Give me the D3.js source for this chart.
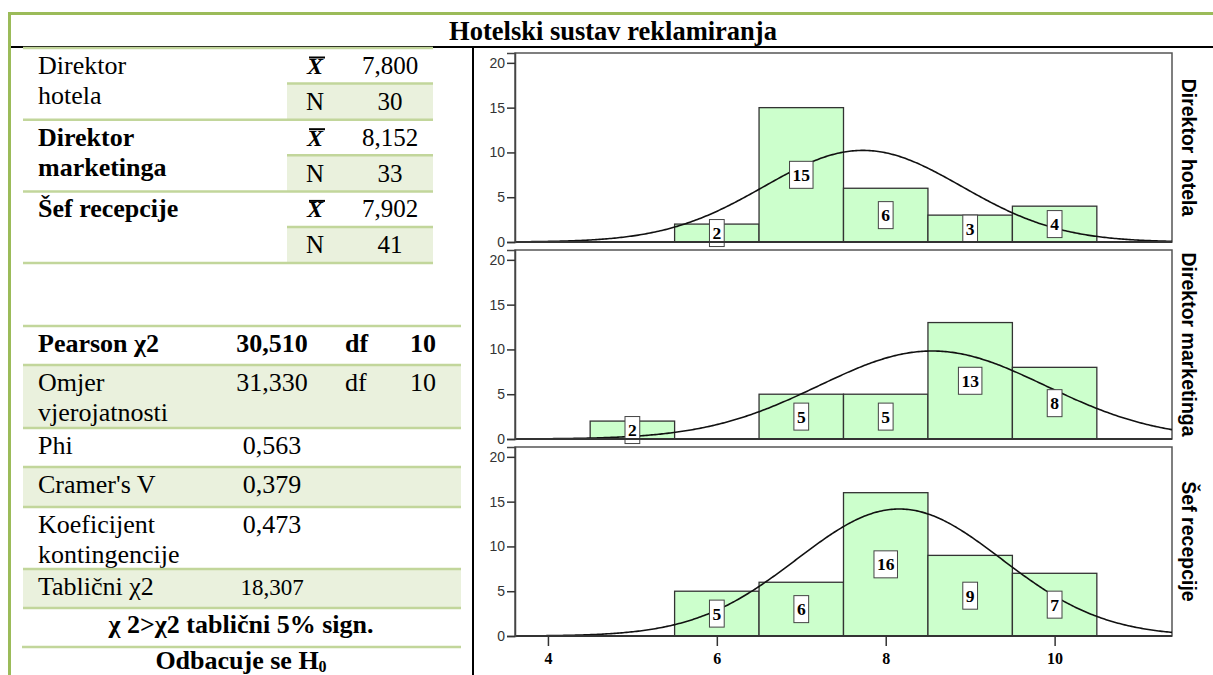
<!DOCTYPE html>
<html>
<head>
<meta charset="utf-8">
<script src="https://cdn.jsdelivr.net/npm/d3@7"></script>
<style>
  body { margin: 0; background: #fff; }
  svg { display: block; }
</style>
</head>
<body>
<div id="chart"></div>
<script>
// ---- data ----
const title = "Hotelski sustav reklamiranja";

const groupLines = [["Direktor", "hotela"], ["Direktor", "marketinga"], ["Šef recepcije"]];
const groupBold = [false, true, true];
const groupMeans = ["7,800", "8,152", "7,902"];
const groupN = ["30", "33", "41"];

const statLabels = [["Pearson χ2"], ["Omjer", "vjerojatnosti"], ["Phi"], ["Cramer's V"], ["Koeficijent", "kontingencije"], ["Tablični χ2"]];
const statValues = ["30,510", "31,330", "0,563", "0,379", "0,473", "18,307"];
const statDf = ["10", "10", "", "", "", ""];
const conclusionLine = "χ 2>χ2 tablični 5% sign.";
const decisionLine = "Odbacuje se H";

const panelNames = ["Direktor hotela", "Direktor marketinga", "Šef recepcije"];
const grades = [5, 6, 7, 8, 9, 10];
const countsHotela = [0, 2, 15, 6, 3, 4];
const countsMarketing = [2, 0, 5, 5, 13, 8];
const countsRecepcija = [0, 5, 6, 16, 9, 7];
const curveMeans = [7.73, 8.55, 8.16];
const curveSds = [1.17, 1.34, 1.21];
const yTicks = [0, 5, 10, 15, 20];
const xTicks = [4, 6, 8, 10];

const panelCounts = [countsHotela, countsMarketing, countsRecepcija];

// ---- styles ----
const serif = '"Liberation Serif","Times New Roman",serif';
const sans = '"Liberation Sans",Arial,sans-serif';
const lineGreen = "#c2d69b";
const fillGreen = "#eaf1dd";
const barFill = "#ccffcc";

const svg = d3.select("#chart").append("svg")
    .attr("width", 1213)
    .attr("height", 675);

// outer frame
svg.append("path")
    .attr("d", "M9.5,675V13.5H1213")
    .attr("fill", "none")
    .attr("stroke", "#9bbb59")
    .attr("stroke-width", 3);

svg.append("text")
    .attr("x", 613).attr("y", 40)
    .attr("text-anchor", "middle")
    .style("font-family", serif).style("font-size", "26.5px").style("font-weight", "bold")
    .text(title);

svg.append("line").attr("x1", 11).attr("x2", 1213).attr("y1", 47).attr("y2", 47)
    .attr("stroke", "#000").attr("stroke-width", 2);
svg.append("line").attr("x1", 473).attr("x2", 473).attr("y1", 47).attr("y2", 675)
    .attr("stroke", "#000").attr("stroke-width", 2);

function txt(x, y, s, opts = {}) {
    return svg.append("text")
        .attr("x", x).attr("y", y)
        .attr("text-anchor", opts.anchor || "start")
        .style("font-family", serif)
        .style("font-size", (opts.size || 26) + "px")
        .style("font-weight", opts.bold ? "bold" : "normal")
        .style("font-style", opts.italic ? "italic" : "normal")
        .attr("fill", "#000")
        .text(s);
}
function hline(x1, x2, y) {
    svg.append("line").attr("x1", x1).attr("x2", x2).attr("y1", y).attr("y2", y)
        .attr("stroke", lineGreen).attr("stroke-width", 2.5);
}

// ---- top table ----
const topY0 = 48, groupH = 71.7;
groupLines.forEach((lines, i) => {
    const t = topY0 + i * groupH;
    svg.append("rect").attr("x", 287).attr("y", t + 35.5).attr("width", 146).attr("height", 36)
        .attr("fill", fillGreen);
});
groupLines.forEach((lines, i) => {
    const t = topY0 + i * groupH;
    hline(23, 433, t);
    hline(287, 433, t + 35.5);
    lines.forEach((l, k) => txt(38, t + 26 + k * 30, l, { bold: groupBold[i] }));
    txt(315, t + 26, "X", { anchor: "middle", bold: true, italic: true, size: 24 });
    svg.append("line").attr("x1", 309).attr("x2", 325).attr("y1", t + 9.5).attr("y2", t + 9.5)
        .attr("stroke", "#000").attr("stroke-width", 2);
    txt(390, t + 26, groupMeans[i], { anchor: "middle", size: 25 });
    txt(315, t + 62, "N", { anchor: "middle", size: 25 });
    txt(390, t + 62, groupN[i], { anchor: "middle", size: 25 });
});
hline(23, 433, topY0 + 3 * groupH);

// ---- bottom table ----
const statTops = [326, 365, 428, 467, 507, 569, 608];
statLabels.forEach((lines, i) => {
    if (i % 2 === 1) {
        svg.append("rect").attr("x", 23).attr("y", statTops[i]).attr("width", 438)
            .attr("height", statTops[i + 1] - statTops[i]).attr("fill", fillGreen);
    }
});
statLabels.forEach((lines, i) => {
    const t = statTops[i];
    const bold = i === 0;
    lines.forEach((l, k) => txt(38, t + 26 + k * 30, l, { bold }));
    txt(272, t + 26, statValues[i], { anchor: "middle", bold, size: i === 5 ? 23 : 26 });
    if (statDf[i]) {
        txt(345, t + 26, "df", { bold });
        txt(423, t + 26, statDf[i], { anchor: "middle", bold });
    }
});
statTops.forEach(t => hline(23, 461, t));
hline(22, 461, 647);
txt(241, 633, conclusionLine, { anchor: "middle", bold: true });
const dec = txt(241, 669, decisionLine, { anchor: "middle", bold: true });
dec.append("tspan").attr("dy", 3).style("font-size", "16px").text("0");

// ---- histograms ----
const x = d3.scaleLinear().domain([3.61, 11.39]).range([515, 1172]);
const panelTops = [53, 250, 447];
const panelH = 189;

svg.append("defs").selectAll("clipPath")
    .data(panelTops).enter().append("clipPath")
    .attr("id", (d, i) => "clip" + i)
    .append("rect")
    .attr("x", 515).attr("y", d => d).attr("width", 657).attr("height", panelH);

panelNames.forEach((name, i) => {
    const top = panelTops[i];
    const y = d3.scaleLinear().domain([0, 21.1]).range([top + panelH, top]);
    const g = svg.append("g");
    const n = d3.sum(panelCounts[i]);

    g.append("rect")
        .attr("x", 515).attr("y", top).attr("width", 657).attr("height", panelH)
        .attr("fill", "#fff").attr("stroke", "#555").attr("stroke-width", 1.5);

    const bars = grades.map((gr, j) => ({ grade: gr, count: panelCounts[i][j] })).filter(d => d.count > 0);

    g.selectAll(".bar").data(bars).enter().append("rect")
        .attr("class", "bar")
        .attr("x", d => x(d.grade - 0.5))
        .attr("width", d => x(d.grade + 0.5) - x(d.grade - 0.5))
        .attr("y", d => y(d.count))
        .attr("height", d => y(0) - y(d.count))
        .attr("fill", barFill)
        .attr("stroke", "#333")
        .attr("stroke-width", 1.3);

    // fitted normal curve
    const m = curveMeans[i], sd = curveSds[i];
    const pts = d3.range(3.61, 11.40, 0.02).map(v => [v, n / (sd * Math.sqrt(2 * Math.PI)) * Math.exp(-0.5 * ((v - m) / sd) ** 2)]);
    g.append("path")
        .datum(pts)
        .attr("clip-path", `url(#clip${i})`)
        .attr("fill", "none")
        .attr("stroke", "#111")
        .attr("stroke-width", 1.6)
        .attr("d", d3.line().x(d => x(d[0])).y(d => y(d[1])));

    // count labels
    const lab = g.selectAll(".lab").data(bars).enter().append("g")
        .attr("class", "lab")
        .attr("transform", d => `translate(${x(d.grade)},${y(d.count / 2)})`);
    lab.append("rect").attr("fill", "#fff").attr("stroke", "#444").attr("stroke-width", 1);
    lab.append("text")
        .attr("text-anchor", "middle")
        .attr("y", 6)
        .style("font-family", serif).style("font-size", "17.5px").style("font-weight", "bold")
        .text(d => d.count);
    lab.each(function () {
        const w = d3.select(this).select("text").node().getComputedTextLength() + 6;
        d3.select(this).select("rect").attr("x", -w / 2).attr("y", -13.5).attr("width", w).attr("height", 27);
    });

    // baseline
    g.append("line").attr("x1", 515).attr("x2", 1172).attr("y1", y(0)).attr("y2", y(0))
        .attr("stroke", "#333").attr("stroke-width", 1.8);

    const ay = g.append("g")
        .attr("transform", "translate(515,0)")
        .call(d3.axisLeft(y).tickValues(yTicks).tickSize(8).tickPadding(2));
    ay.select(".domain").attr("stroke", "#444").attr("stroke-width", 1.5);
    ay.selectAll(".tick line").attr("stroke", "#333").attr("stroke-width", 1.5);
    ay.selectAll(".tick text")
        .style("font-family", sans).style("font-size", "14px").attr("fill", "#333");

    g.append("text")
        .attr("transform", `translate(1182,${top + panelH / 2}) rotate(90)`)
        .attr("text-anchor", "middle")
        .style("font-family", sans).style("font-size", "19.5px").style("font-weight", "bold")
        .text(name);

    if (i === panelNames.length - 1) {
        const ax = g.append("g")
            .attr("transform", `translate(0,${y(0)})`)
            .call(d3.axisBottom(x).tickValues(xTicks).tickSize(10).tickPadding(7));
        ax.select(".domain").remove();
        ax.selectAll(".tick line").attr("stroke", "#333").attr("stroke-width", 1.5);
        ax.selectAll(".tick text")
            .style("font-family", serif).style("font-size", "16px").style("font-weight", "bold")
            .attr("fill", "#000");
    }
});
</script>
</body>
</html>
